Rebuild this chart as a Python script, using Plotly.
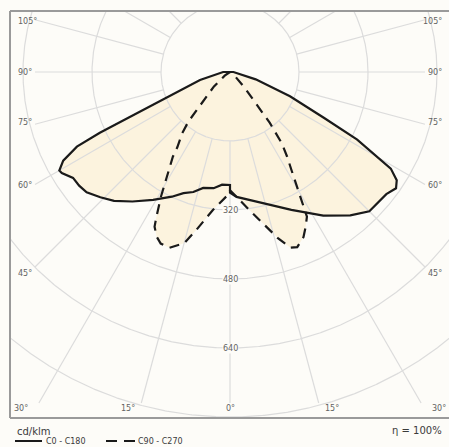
import numpy as np
import plotly.graph_objects as go

# ---------------- data (cd/klm) ----------------
# C0 - C180 plane (solid): right half = C0, left half = C180
gamma_c0 = [0, 3, 12, 24, 33, 40, 45, 50, 52, 55, 57, 59, 60, 62, 64, 68, 74, 90, 180]
cd_c0 = [280, 290, 308, 350, 397, 434, 457, 459, 460, 470, 461, 435, 394, 334, 242, 150, 62, 8, 0]

gamma_c180 = [0, 4, 8, 13, 17, 21, 25, 31, 37, 42, 46, 50, 53, 56, 59, 60, 62, 64, 65, 66, 68, 75, 90, 180]
cd_c180 = [262, 262, 272, 276, 291, 301, 319, 346, 376, 402, 418, 434, 438, 439, 455, 457, 438, 395, 333, 246, 157, 72, 16, 0]

# C90 - C270 plane (dashed): right half = C90, left half = C270
gamma_c90 = [0, 7, 12, 16, 19, 21, 24, 26, 28, 30, 32, 34, 36, 38, 40, 43, 50, 90, 180]
cd_c90 = [274, 316, 358, 400, 431, 435, 419, 400, 380, 320, 270, 237, 205, 150, 95, 50, 15, 0, 0]

gamma_c270 = [0, 7, 12, 15, 19, 22, 24, 26, 27, 29, 31, 34, 35, 38, 40, 42, 44, 48, 55, 90, 180]
cd_c270 = [280, 322, 374, 411, 431, 429, 418, 399, 375, 330, 284, 237, 213, 180, 150, 100, 75, 50, 15, 0, 0]

radial_ticks = [160, 320, 480, 640, 800]
radial_labels = [320, 480, 640]
angle_grid = list(range(0, 181, 15))
side_label_angles = [45, 60, 75, 90, 105]
bottom_label_angles = [0, 15, 30]
eta_text = "η = 100%"
unit_text = "cd/klm"
legend_names = ["C0 - C180", "C90 - C270"]

# ---------------- layout geometry (pixels) ----------------
W, H = 449, 447
CX, CY = 230, 72            # pole position in pixels
S = 69 / 160                # pixels per cd/klm
BG = "#fdfcf8"
FILL = "#fcf3de"
GRID = "#dcdcdc"
TXT = "#626262"
FONT = "DejaVu Sans"

def px_x(p):
    return (p - CX) / S

def px_y(p):
    return (CY - p) / S

box_l, box_r, box_t, box_b = px_x(10), px_x(450), px_y(11), px_y(418)
grid_side, grid_bot = 195 / S, px_y(403)


def half(g, i, side):
    g = np.radians(np.asarray(g, float))
    i = np.asarray(i, float)
    return side * i * np.sin(g), -i * np.cos(g)


def closed_curve(g_left, i_left, g_right, i_right):
    xl, yl = half(g_left, i_left, -1)
    xr, yr = half(g_right, i_right, 1)
    return np.concatenate([xl[::-1], xr]), np.concatenate([yl[::-1], yr])


sx, sy = closed_curve(gamma_c180, cd_c180, gamma_c0, cd_c0)
dx, dy = closed_curve(gamma_c270, cd_c270, gamma_c90, cd_c90)

fig = go.Figure()
# fills
for xx, yy in [(sx, sy), (dx, dy)]:
    fig.add_trace(go.Scatter(x=xx, y=yy, mode="lines", fill="toself", fillcolor=FILL,
                             line=dict(width=0, color=FILL), hoverinfo="skip", showlegend=False))

# grid circles (clipped to frame)
phi = np.linspace(0, 2 * np.pi, 1440)
cxs, cys = [], []
for r in radial_ticks:
    x = r * np.cos(phi)
    y = r * np.sin(phi)
    inside = (x >= box_l) & (x <= box_r) & (y <= box_t) & (y >= box_b)
    x = np.where(inside, x, np.nan)
    y = np.where(inside, y, np.nan)
    cxs += list(x) + [np.nan]
    cys += list(y) + [np.nan]
fig.add_trace(go.Scatter(x=cxs, y=cys, mode="lines", line=dict(color=GRID, width=1.2),
                         connectgaps=False, hoverinfo="skip", showlegend=False))

# radial lines
rxs, rys = [], []
for g in angle_grid:
    for side in ([1] if g in (0, 180) else [-1, 1]):
        ux, uy = side * np.sin(np.radians(g)), -np.cos(np.radians(g))
        ts = []
        if abs(ux) > 1e-9:
            ts.append(grid_side / abs(ux))
        if uy < -1e-9:
            ts.append(-grid_bot / -uy)
        if uy > 1e-9:
            ts.append(box_t / uy)
        t_end = min(ts)
        if t_end > radial_ticks[0]:
            rxs += [radial_ticks[0] * ux, t_end * ux, None]
            rys += [radial_ticks[0] * uy, t_end * uy, None]
fig.add_trace(go.Scatter(x=rxs, y=rys, mode="lines", line=dict(color=GRID, width=1.2),
                         hoverinfo="skip", showlegend=False))

# curves
fig.add_trace(go.Scatter(x=sx, y=sy, mode="lines", line=dict(color="#1a1a1a", width=2.2),
                         hoverinfo="skip", showlegend=False))
fig.add_trace(go.Scatter(x=dx, y=dy, mode="lines", line=dict(color="#1a1a1a", width=2.2, dash="10px,7px"),
                         hoverinfo="skip", showlegend=False))

annotations = []
# radial value labels
for v in radial_labels:
    annotations.append(dict(x=0, y=-v, text=str(v), showarrow=False, xref="x", yref="y",
                            font=dict(family=FONT, size=8, color=TXT), bgcolor=BG, borderpad=0))
# side angle labels
for g in side_label_angles:
    yv = -(206 / S) / np.tan(np.radians(g)) if g != 90 else 0.0
    if yv < -1e-6:
        yv += 5 / S
    elif yv > 1e-6:
        yv -= 5 / S
    annotations.append(dict(x=px_x(16), y=yv, text=f"{g}°", showarrow=False, xanchor="left",
                            font=dict(family=FONT, size=8, color=TXT)))
    annotations.append(dict(x=px_x(444), y=yv, text=f"{g}°", showarrow=False, xanchor="right",
                            font=dict(family=FONT, size=8, color=TXT)))
# bottom angle labels
for g in bottom_label_angles:
    xv = -box_b * np.tan(np.radians(g))
    sides = [0] if g == 0 else [-1, 1]
    for side in sides:
        anchor = "center" if side == 0 else ("right" if side < 0 else "left")
        annotations.append(dict(x=side * xv, y=px_y(408), text=f"{g}°", showarrow=False,
                                xanchor=anchor, font=dict(family=FONT, size=8, color=TXT)))

# footer texts
annotations.append(dict(x=15 / W, y=1 - 431 / H, xref="paper", yref="paper", text=unit_text,
                        showarrow=False, xanchor="left", yanchor="middle",
                        font=dict(family=FONT, size=10, color="#3a3a3a")))
annotations.append(dict(x=444 / W, y=1 - 430 / H, xref="paper", yref="paper", text=eta_text,
                        showarrow=False, xanchor="right", yanchor="middle",
                        font=dict(family=FONT, size=10, color="#3a3a3a")))
annotations.append(dict(x=44 / W, y=1 - 441 / H, xref="paper", yref="paper", text=legend_names[0],
                        showarrow=False, xanchor="left", yanchor="middle",
                        font=dict(family=FONT, size=8, color="#3a3a3a")))
annotations.append(dict(x=136 / W, y=1 - 441 / H, xref="paper", yref="paper", text=legend_names[1],
                        showarrow=False, xanchor="left", yanchor="middle",
                        font=dict(family=FONT, size=8, color="#3a3a3a")))

shapes = [
    # frame: top, left, bottom
    dict(type="line", xref="x", yref="y", x0=box_l, x1=box_r, y0=box_t, y1=box_t,
         line=dict(color="#9a9a9a", width=2)),
    dict(type="line", xref="x", yref="y", x0=box_l, x1=box_l, y0=box_t, y1=box_b,
         line=dict(color="#9a9a9a", width=2)),
    dict(type="line", xref="x", yref="y", x0=box_l, x1=box_r, y0=box_b, y1=box_b,
         line=dict(color="#9a9a9a", width=2)),
    # legend samples
    dict(type="line", xref="paper", yref="paper", x0=15 / W, x1=42 / W, y0=1 - 441 / H, y1=1 - 441 / H,
         line=dict(color="#1a1a1a", width=2)),
    dict(type="line", xref="paper", yref="paper", x0=106 / W, x1=135 / W, y0=1 - 441 / H, y1=1 - 441 / H,
         line=dict(color="#1a1a1a", width=2, dash="11px,7px")),
]

fig.update_layout(
    width=W, height=H, margin=dict(l=0, r=0, t=0, b=0),
    paper_bgcolor=BG, plot_bgcolor=BG,
    xaxis=dict(range=[px_x(0), px_x(W)], visible=False, fixedrange=True),
    yaxis=dict(range=[px_y(H), px_y(0)], visible=False, fixedrange=True),
    annotations=annotations, shapes=shapes, showlegend=False,
)

fig.write_html("out.html", config={"displayModeBar": False, "staticPlot": True},
               post_script="document.body.style.margin='0';document.body.style.overflow='hidden';")
